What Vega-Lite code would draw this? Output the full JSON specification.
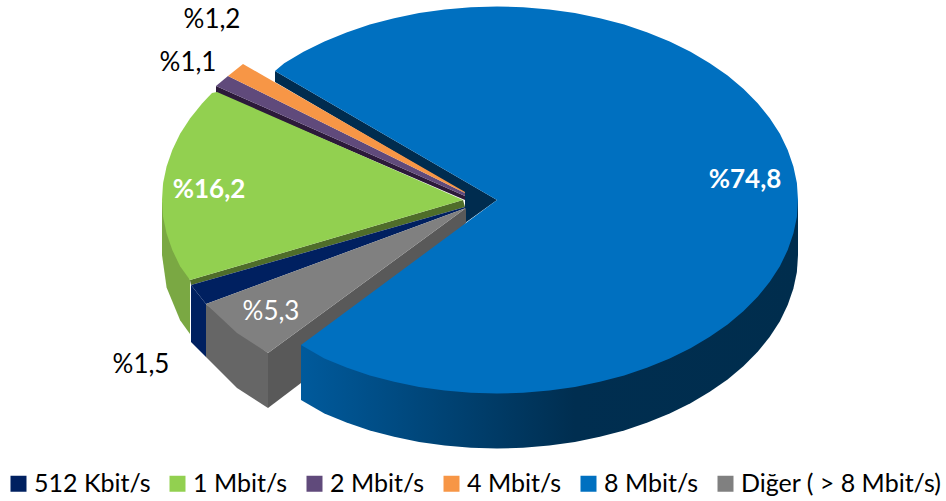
{"$schema":"https://vega.github.io/schema/vega-lite/v6.json","width":946,"height":501,"padding":0,"autosize":{"type":"none"},"background":"white","config":{"view":{"stroke":null}},
"datasets":{
"tops":[
{"slice":"512 Kbit/s","seq":1,"x":191,"y":285},{"slice":"512 Kbit/s","seq":2,"x":206,"y":304},{"slice":"512 Kbit/s","seq":3,"x":466,"y":208},{"slice":"512 Kbit/s","seq":4,"x":465,"y":207},
{"slice":"1 Mbit/s","seq":1,"x":212,"y":93},{"slice":"1 Mbit/s","seq":2,"x":202.3,"y":103.3},{"slice":"1 Mbit/s","seq":2.5,"x":190.2,"y":118.2},{"slice":"1 Mbit/s","seq":3,"x":180.1,"y":133.8},{"slice":"1 Mbit/s","seq":3.5,"x":172.3,"y":149.9},{"slice":"1 Mbit/s","seq":4,"x":166.6,"y":166.4},{"slice":"1 Mbit/s","seq":4.5,"x":163.1,"y":183.1},{"slice":"1 Mbit/s","seq":5,"x":162,"y":200},{"slice":"1 Mbit/s","seq":5.5,"x":163.1,"y":216.9},{"slice":"1 Mbit/s","seq":6,"x":166.6,"y":233.6},{"slice":"1 Mbit/s","seq":6.5,"x":172.3,"y":250.1},{"slice":"1 Mbit/s","seq":7,"x":180.1,"y":266.2},{"slice":"1 Mbit/s","seq":8,"x":190,"y":280},{"slice":"1 Mbit/s","seq":9,"x":463,"y":200},{"slice":"1 Mbit/s","seq":10,"x":217,"y":92},
{"slice":"2 Mbit/s","seq":1,"x":216,"y":86},{"slice":"2 Mbit/s","seq":2,"x":228,"y":76},{"slice":"2 Mbit/s","seq":3,"x":465,"y":193},{"slice":"2 Mbit/s","seq":4,"x":465,"y":196},
{"slice":"4 Mbit/s","seq":1,"x":228,"y":76},{"slice":"4 Mbit/s","seq":2,"x":243,"y":64},{"slice":"4 Mbit/s","seq":3,"x":465,"y":192},{"slice":"4 Mbit/s","seq":4,"x":465,"y":193},
{"slice":"8 Mbit/s","seq":1,"x":275,"y":71},{"slice":"8 Mbit/s","seq":1.5,"x":284.2,"y":63.2},{"slice":"8 Mbit/s","seq":2,"x":303.5,"y":51.8},{"slice":"8 Mbit/s","seq":2.5,"x":324.4,"y":41.5},{"slice":"8 Mbit/s","seq":3,"x":346.5,"y":32.4},{"slice":"8 Mbit/s","seq":3.5,"x":369.8,"y":24.6},{"slice":"8 Mbit/s","seq":4,"x":394.1,"y":18.2},{"slice":"8 Mbit/s","seq":4.5,"x":419.1,"y":13.1},{"slice":"8 Mbit/s","seq":5,"x":444.7,"y":9.4},{"slice":"8 Mbit/s","seq":5.5,"x":470.8,"y":7.2},{"slice":"8 Mbit/s","seq":6,"x":497,"y":6.5},{"slice":"8 Mbit/s","seq":6.5,"x":523.2,"y":7.2},{"slice":"8 Mbit/s","seq":7,"x":549.3,"y":9.4},{"slice":"8 Mbit/s","seq":7.5,"x":574.9,"y":13.1},{"slice":"8 Mbit/s","seq":8,"x":599.9,"y":18.2},{"slice":"8 Mbit/s","seq":8.5,"x":624.2,"y":24.6},{"slice":"8 Mbit/s","seq":9,"x":647.5,"y":32.4},{"slice":"8 Mbit/s","seq":9.5,"x":669.7,"y":41.5},{"slice":"8 Mbit/s","seq":10,"x":690.5,"y":51.8},{"slice":"8 Mbit/s","seq":10.5,"x":709.8,"y":63.2},{"slice":"8 Mbit/s","seq":11,"x":727.6,"y":75.6},{"slice":"8 Mbit/s","seq":11.5,"x":743.6,"y":89},{"slice":"8 Mbit/s","seq":12,"x":757.7,"y":103.3},{"slice":"8 Mbit/s","seq":12.5,"x":769.8,"y":118.2},{"slice":"8 Mbit/s","seq":13,"x":779.9,"y":133.8},{"slice":"8 Mbit/s","seq":13.5,"x":787.7,"y":149.9},{"slice":"8 Mbit/s","seq":14,"x":793.4,"y":166.4},{"slice":"8 Mbit/s","seq":14.5,"x":796.9,"y":183.1},{"slice":"8 Mbit/s","seq":15,"x":798,"y":200},{"slice":"8 Mbit/s","seq":15.5,"x":796.9,"y":216.9},{"slice":"8 Mbit/s","seq":16,"x":793.4,"y":233.6},{"slice":"8 Mbit/s","seq":16.5,"x":787.7,"y":250.1},{"slice":"8 Mbit/s","seq":17,"x":779.9,"y":266.2},{"slice":"8 Mbit/s","seq":17.5,"x":769.8,"y":281.8},{"slice":"8 Mbit/s","seq":18,"x":757.7,"y":296.8},{"slice":"8 Mbit/s","seq":18.5,"x":743.6,"y":311},{"slice":"8 Mbit/s","seq":19,"x":727.6,"y":324.4},{"slice":"8 Mbit/s","seq":19.5,"x":709.8,"y":336.8},{"slice":"8 Mbit/s","seq":20,"x":690.5,"y":348.2},{"slice":"8 Mbit/s","seq":20.5,"x":669.7,"y":358.5},{"slice":"8 Mbit/s","seq":21,"x":647.5,"y":367.6},{"slice":"8 Mbit/s","seq":21.5,"x":624.2,"y":375.4},{"slice":"8 Mbit/s","seq":22,"x":599.9,"y":381.8},{"slice":"8 Mbit/s","seq":22.5,"x":574.9,"y":386.9},{"slice":"8 Mbit/s","seq":23,"x":549.3,"y":390.6},{"slice":"8 Mbit/s","seq":23.5,"x":523.2,"y":392.8},{"slice":"8 Mbit/s","seq":24,"x":497,"y":393.5},{"slice":"8 Mbit/s","seq":24.5,"x":470.8,"y":392.8},{"slice":"8 Mbit/s","seq":25,"x":444.7,"y":390.6},{"slice":"8 Mbit/s","seq":25.5,"x":419.1,"y":386.9},{"slice":"8 Mbit/s","seq":26,"x":394.1,"y":381.8},{"slice":"8 Mbit/s","seq":26.5,"x":369.8,"y":375.4},{"slice":"8 Mbit/s","seq":27,"x":346.5,"y":367.6},{"slice":"8 Mbit/s","seq":27.5,"x":324.4,"y":358.5},{"slice":"8 Mbit/s","seq":28,"x":301,"y":345},{"slice":"8 Mbit/s","seq":29,"x":497,"y":200},
{"slice":"Diğer ( > 8 Mbit/s)","seq":1,"x":206,"y":304},{"slice":"Diğer ( > 8 Mbit/s)","seq":2,"x":237,"y":333},{"slice":"Diğer ( > 8 Mbit/s)","seq":3,"x":268,"y":353},{"slice":"Diğer ( > 8 Mbit/s)","seq":4,"x":466,"y":208}
],
"blueSide":[
{"seq":1,"x":798,"y":200},{"seq":2,"x":798,"y":255},{"seq":2.5,"x":796.9,"y":271.9},{"seq":3,"x":793.4,"y":288.6},{"seq":3.5,"x":787.7,"y":305.1},{"seq":4,"x":779.9,"y":321.2},{"seq":4.5,"x":769.8,"y":336.8},{"seq":5,"x":757.7,"y":351.8},{"seq":5.5,"x":743.6,"y":366},{"seq":6,"x":727.6,"y":379.4},{"seq":6.5,"x":709.8,"y":391.8},{"seq":7,"x":690.5,"y":403.2},{"seq":7.5,"x":669.7,"y":413.5},{"seq":8,"x":647.5,"y":422.6},{"seq":8.5,"x":624.2,"y":430.4},{"seq":9,"x":599.9,"y":436.8},{"seq":9.5,"x":574.9,"y":441.9},{"seq":10,"x":549.3,"y":445.6},{"seq":10.5,"x":523.2,"y":447.8},{"seq":11,"x":497,"y":448.5},{"seq":11.5,"x":470.8,"y":447.8},{"seq":12,"x":444.7,"y":445.6},{"seq":12.5,"x":419.1,"y":441.9},{"seq":13,"x":394.1,"y":436.8},{"seq":13.5,"x":369.8,"y":430.4},{"seq":14,"x":346.5,"y":422.6},{"seq":14.5,"x":324.4,"y":413.5},{"seq":15,"x":301,"y":400},{"seq":16,"x":301,"y":345}
],
"faces":[
{"face":"blue cut","seq":1,"x":275,"y":71},{"face":"blue cut","seq":2,"x":275,"y":82},{"face":"blue cut","seq":3,"x":465,"y":193},{"face":"blue cut","seq":4,"x":465,"y":223},{"face":"blue cut","seq":5,"x":497,"y":200},
{"face":"green side","seq":1,"x":162,"y":200},{"face":"green side","seq":2,"x":162,"y":255},{"face":"green side","seq":3,"x":166.6,"y":287.6},{"face":"green side","seq":4,"x":180.1,"y":320.2},{"face":"green side","seq":5,"x":190,"y":334},{"face":"green side","seq":6,"x":190,"y":280},
{"face":"green cut","seq":1,"x":463,"y":200},{"face":"green cut","seq":2,"x":190,"y":280},{"face":"green cut","seq":3,"x":191,"y":285},{"face":"green cut","seq":4,"x":465,"y":207},
{"face":"navy side","seq":1,"x":191,"y":285},{"face":"navy side","seq":2,"x":191,"y":342},{"face":"navy side","seq":3,"x":206,"y":357},{"face":"navy side","seq":4,"x":206,"y":304},
{"face":"purple cut","seq":1,"x":216,"y":86},{"face":"purple cut","seq":2,"x":216,"y":93},{"face":"purple cut","seq":3,"x":465,"y":200},{"face":"purple cut","seq":4,"x":465,"y":196},
{"face":"grey side","seq":1,"x":206,"y":304},{"face":"grey side","seq":2,"x":206,"y":357},{"face":"grey side","seq":3,"x":237,"y":388},{"face":"grey side","seq":4,"x":268,"y":408},{"face":"grey side","seq":5,"x":268,"y":353},
{"face":"grey cut","seq":1,"x":268,"y":353},{"face":"grey cut","seq":2,"x":268,"y":408},{"face":"grey cut","seq":3,"x":301,"y":383},{"face":"grey cut","seq":4,"x":466,"y":223},{"face":"grey cut","seq":5,"x":466,"y":208}
],
"labels":[
{"slice":"512 Kbit/s","share":1.5,"label":"%1,5","style":"dark","x":141,"y":365},
{"slice":"1 Mbit/s","share":16.2,"label":"%16,2","style":"bold","x":209,"y":190},
{"slice":"2 Mbit/s","share":1.1,"label":"%1,1","style":"dark","x":188,"y":63},
{"slice":"4 Mbit/s","share":1.2,"label":"%1,2","style":"dark","x":212,"y":20},
{"slice":"8 Mbit/s","share":74.8,"label":"%74,8","style":"bold","x":745,"y":180},
{"slice":"Diğer ( > 8 Mbit/s)","share":5.3,"label":"%5,3","style":"light","x":271,"y":312}
]},
"encoding":{
"x":{"field":"x","type":"quantitative","scale":{"domain":[0,946],"nice":false,"zero":false},"axis":null},
"y":{"field":"y","type":"quantitative","scale":{"domain":[501,0],"nice":false,"zero":false},"axis":null}
},
"layer":[
{"data":{"name":"faces"},"mark":{"type":"line","filled":true,"strokeWidth":0},"encoding":{"order":{"field":"seq","type":"quantitative"},"fill":{"field":"face","type":"nominal","legend":null,"scale":{"domain":["blue cut","green side","green cut","navy side","purple cut","grey side","grey cut"],"range":["#002c4f","#7aa843","#4f6d2a","#002060","#2c1a3a","#666666","#595959"]}}}},
{"data":{"name":"blueSide"},"mark":{"type":"line","filled":true,"strokeWidth":0,"color":{"gradient":"linear","x1":0,"y1":0,"x2":1,"y2":0,"stops":[{"offset":0,"color":"#005a9c"},{"offset":0.55,"color":"#002e50"},{"offset":1,"color":"#002d4d"}]}},"encoding":{"order":{"field":"seq","type":"quantitative"}}},
{"data":{"name":"tops"},"mark":{"type":"line","filled":true,"strokeWidth":0},"encoding":{"order":{"field":"seq","type":"quantitative"},"color":{"field":"slice","type":"nominal","scale":{"domain":["512 Kbit/s","1 Mbit/s","2 Mbit/s","4 Mbit/s","8 Mbit/s","Diğer ( > 8 Mbit/s)"],"range":["#002060","#92d050","#604a7b","#f79646","#0070c0","#808080"]},"legend":{"title":null,"orient":"none","legendX":6,"legendY":471,"direction":"horizontal","columns":6,"symbolType":"square","symbolSize":256,"symbolStrokeWidth":0,"symbolOpacity":1,"labelFont":"Lato","labelFontSize":25,"labelColor":"#000000","labelLimit":400,"columnPadding":14,"symbolOffset":0,"labelOffset":3}}}},
{"data":{"name":"labels"},"transform":[{"filter":"datum.style=='dark'"}],"mark":{"type":"text","font":"Lato","fontSize":26,"color":"#000000"},"encoding":{"text":{"field":"label"}}},
{"data":{"name":"labels"},"transform":[{"filter":"datum.style=='light'"}],"mark":{"type":"text","font":"Lato","fontSize":26,"color":"#ffffff"},"encoding":{"text":{"field":"label"}}},
{"data":{"name":"labels"},"transform":[{"filter":"datum.style=='bold'"}],"mark":{"type":"text","font":"Lato","fontSize":26,"fontWeight":"bold","color":"#ffffff"},"encoding":{"text":{"field":"label"}}}
]}
